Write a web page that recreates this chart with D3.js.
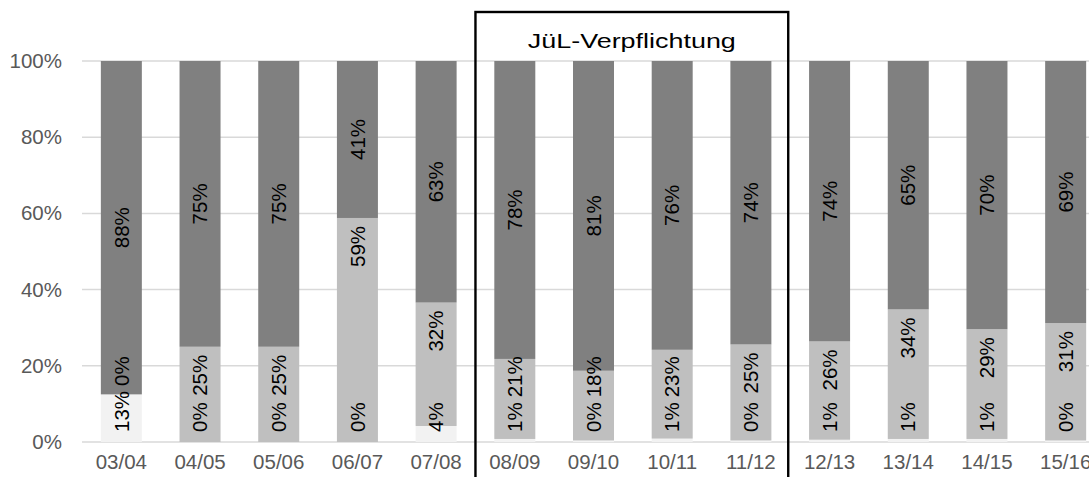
<!DOCTYPE html>
<html lang="de">
<head>
    <meta charset="UTF-8">
    <title>JüL-Verpflichtung</title>
    <script src="https://cdn.jsdelivr.net/npm/d3@7/dist/d3.min.js"></script>
    <style>
        body { margin: 0; background: #fff; }
        text { font-family: "Liberation Sans", Arial, sans-serif; }
    </style>
</head>
<body>
<script>
    // Schuljahre
    let years = ["03/04", "04/05", "05/06", "06/07", "07/08", "08/09", "09/10",
                 "10/11", "11/12", "12/13", "13/14", "14/15", "15/16"];
    // Anteile in %, von unten nach oben
    let lightShare = [12.5, 0, 0, 0, 4.2, 0.8, 0.4, 0.9, 0.4, 0.6, 0.8, 0.8, 0.4];
    let midShare   = [0, 25, 25, 58.8, 32.4, 21.0, 18.3, 23.3, 25.2, 25.8, 34.0, 28.8, 30.8];
    let darkShare  = [87.5, 75, 75, 41.2, 63.4, 78.2, 81.3, 75.8, 74.4, 73.6, 65.2, 70.4, 68.8];
    let yTicks = [0, 0.2, 0.4, 0.6, 0.8, 1];
    let boxTitle = "JüL-Verpflichtung";
    let boxFrom = "08/09", boxTo = "11/12";

    let width = 1089;
    let height = 477;
    let margin = {top: 61, right: -16, bottom: 35, left: 82};

    let svg = d3.select("body").append("svg")
        .attr("width", width)
        .attr("height", height);

    let keys = ["light", "mid", "dark"];
    let colors = {light: "#f2f2f2", mid: "#bfbfbf", dark: "#808080"};
    let rows = years.map((y, i) => ({year: y, light: lightShare[i], mid: midShare[i], dark: darkShare[i]}));

    let series = d3.stack().keys(keys).offset(d3.stackOffsetExpand)(rows);

    let x = d3.scaleBand()
        .domain(years)
        .range([margin.left, width - margin.right])
        .paddingInner(0.479)
        .paddingOuter(0.2395);

    let y = d3.scaleLinear()
        .domain([0, 1])
        .range([height - margin.bottom, margin.top]);

    // Gitterlinien
    svg.append("g")
        .selectAll("line")
        .data(yTicks)
        .join("line")
        .attr("x1", margin.left)
        .attr("x2", width - margin.right)
        .attr("y1", d => y(d))
        .attr("y2", d => y(d))
        .attr("stroke", "#d9d9d9")
        .attr("stroke-width", 1.5);

    let yAxis = d3.axisLeft(y)
        .tickValues(yTicks)
        .tickFormat(d3.format(".0%"))
        .tickSize(0)
        .tickPadding(20);

    let gy = svg.append("g")
        .attr("transform", `translate(${margin.left},0)`)
        .call(yAxis);
    gy.select(".domain").remove();
    gy.selectAll("text").attr("font-size", "20.5px").attr("fill", "#595959")
        .attr("font-family", "Liberation Sans, Arial, sans-serif");

    let xAxis = d3.axisBottom(x).tickSize(0).tickPadding(12);
    let gx = svg.append("g")
        .attr("transform", `translate(0,${height - margin.bottom})`)
        .call(xAxis);
    gx.select(".domain").remove();
    gx.selectAll("text").attr("font-size", "20.5px").attr("fill", "#595959")
        .attr("font-family", "Liberation Sans, Arial, sans-serif");

    // Balken
    svg.append("g")
        .selectAll("g")
        .data(series)
        .join("g")
        .attr("fill", d => colors[d.key])
        .selectAll("rect")
        .data(d => d)
        .join("rect")
        .attr("x", d => x(d.data.year))
        .attr("width", x.bandwidth())
        .attr("y", d => y(d[1]))
        .attr("height", d => y(d[0]) - y(d[1]));

    // Datenbeschriftungen
    let labels = svg.append("g")
        .attr("font-size", "20.5px")
        .attr("fill", "#000");

    function rotLabel(cx, cy, txt, anchor) {
        return labels.append("text")
            .attr("transform", `translate(${cx},${cy}) rotate(-90)`)
            .attr("text-anchor", anchor)
            .attr("dy", "0.35em")
            .text(txt);
    }

    let fmt = v => Math.round(v) + "%";
    rows.forEach((r, i) => {
        let cx = x(r.year) + x.bandwidth() / 2;
        let sL = series[0][i], sM = series[1][i], sD = series[2][i];

        let startL = y(0) - 10;
        let tL = rotLabel(cx, startL, fmt(r.light), "start");
        let lenL = tL.node().getComputedTextLength();

        let tM = rotLabel(cx, 0, fmt(r.mid), "end");
        let lenM = tM.node().getComputedTextLength();
        let endM = y(sM[1]) + 8;
        if (endM + lenM > startL - lenL - 5) endM = startL - lenL - 5 - lenM;
        tM.attr("transform", `translate(${cx},${endM}) rotate(-90)`);

        rotLabel(cx, (y(sD[0]) + y(sD[1])) / 2, fmt(r.dark), "middle");
    });

    // Rahmen JüL
    let step = x.step();
    let bx0 = x(boxFrom) - x.bandwidth() * 0.479 / (1 - 0.479) / 2;
    let bx1 = x(boxTo) + x.bandwidth() + (step - x.bandwidth()) / 2 - 2;
    svg.append("rect")
        .attr("x", bx0)
        .attr("y", 12)
        .attr("width", bx1 - bx0)
        .attr("height", height + 10)
        .attr("fill", "none")
        .attr("stroke", "#000")
        .attr("stroke-width", 2.4);

    svg.append("text")
        .attr("x", (bx0 + bx1) / 2)
        .attr("y", 48)
        .attr("text-anchor", "middle")
        .attr("font-size", "21px")
        .attr("fill", "#000")
        .attr("textLength", 208)
        .attr("lengthAdjust", "spacingAndGlyphs")
        .text(boxTitle);
</script>
</body>
</html>
